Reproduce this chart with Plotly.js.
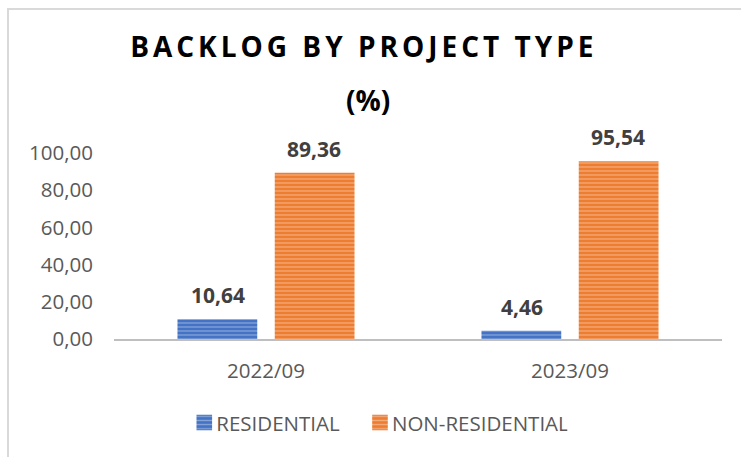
<!DOCTYPE html>
<html>
<head>
<meta charset="utf-8">
<script src="https://cdn.plot.ly/plotly-3.0.1.min.js"></script>
<style>
  html, body { margin: 0; padding: 0; background: #ffffff; overflow: hidden; }
  #chart { width: 741px; height: 457px; position: absolute; left: 0; top: 0; }
  #frame { position: absolute; left: 7px; top: 8px; width: 800px; height: 520px;
           border: 2px solid #d9d9d9; box-sizing: border-box; pointer-events: none; }
  .gtitle { letter-spacing: 4px; }
  .legendpoints path { transform: translate(28px, 0px) scale(1.3); }
  .legend .traces:nth-child(2) .legendpoints path { transform: translate(35px, 0px) scale(1.3); }
  .legend .traces:nth-child(2) .legendtext { transform: translate(7px, 0px); }
</style>
</head>
<body>
<div id="chart"></div>
<div id="frame"></div>
<script>
const categories = ["2022/09", "2023/09"];
const seriesNames = ["RESIDENTIAL", "NON-RESIDENTIAL"];
const residential = [10.64, 4.46];
const nonResidential = [89.36, 95.54];
const yTickValues = [0, 20, 40, 60, 80, 100];
const yTickLabels = ["0,00", "20,00", "40,00", "60,00", "80,00", "100,00"];
const titleLine1 = "BACKLOG BY PROJECT TYPE";
const titleLine2 = "(%)";

const colors = ["#4472C4", "#ED7D31"];
const allSeries = [residential, nonResidential];

const traces = allSeries.map((vals, i) => ({
  type: "bar",
  name: seriesNames[i],
  x: categories,
  y: vals,
  marker: {
    color: colors[i],
    pattern: { shape: "-", fgcolor: "rgba(255,255,255,0.75)", bgcolor: colors[i], size: 4, solidity: 0.3, fillmode: "overlay" },
    line: { width: 0 }
  },
  hoverinfo: "skip"
}));

const fmt = v => v.toFixed(2).replace(".", ",");
const offset = 0.158;
const annotations = [];
allSeries.forEach((vals, i) => {
  vals.forEach((v, j) => {
    annotations.push({
      x: j + (i === 0 ? -offset : offset),
      y: v,
      xref: "x", yref: "y",
      text: "<b>" + fmt(v) + "</b>",
      showarrow: false,
      yanchor: "bottom",
      yshift: 8,
      font: { family: "Open Sans, sans-serif", size: 21, color: "#404040" }
    });
  });
});
annotations.push({
  x: 0.418, y: 1.285, xref: "paper", yref: "paper",
  text: "<b>" + titleLine2 + "</b>",
  showarrow: false, xanchor: "center", yanchor: "middle",
  font: { family: "Open Sans, sans-serif", size: 28, color: "#000000" }
});

const layout = {
  width: 741, height: 457,
  margin: { l: 114, r: 19, t: 153, b: 118 },
  paper_bgcolor: "rgba(0,0,0,0)",
  plot_bgcolor: "rgba(0,0,0,0)",
  separators: ",.",
  title: {
    text: "<b>" + titleLine1 + "</b>",
    font: { family: "Open Sans, sans-serif", size: 28, color: "#000000" },
    x: 0.491, xanchor: "center",
    yref: "container", y: 1 - 47 / 457, yanchor: "middle"
  },
  bargap: 0.36,
  bargroupgap: 0.18,
  barmode: "group",
  xaxis: {
    type: "category",
    showline: true, linecolor: "#BFBFBF", linewidth: 2,
    showgrid: false, zeroline: false, ticks: "",
    tickfont: { family: "Open Sans, sans-serif", size: 20.5, color: "#595959" },
    ticklabelstandoff: 12
  },
  yaxis: {
    range: [0, 100],
    tickvals: yTickValues, ticktext: yTickLabels,
    showgrid: false, zeroline: false, showline: false, ticks: "",
    tickfont: { family: "Open Sans, sans-serif", size: 20.5, color: "#595959" },
    ticklabelstandoff: 20
  },
  legend: {
    orientation: "h", x: 0.424, xanchor: "center", y: -0.45, yanchor: "middle",
    font: { family: "Open Sans, sans-serif", size: 20.5, color: "#595959" },
    itemwidth: 30
  },
  showlegend: true,
  annotations: annotations
};

Plotly.newPlot("chart", traces, layout, { displayModeBar: false, staticPlot: true });
</script>
</body>
</html>
